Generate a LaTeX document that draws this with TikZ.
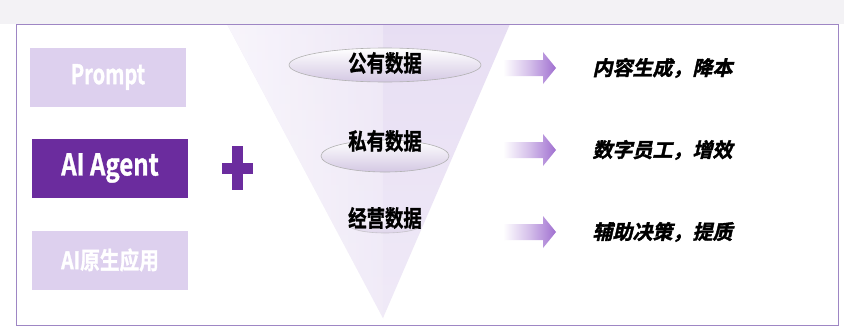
\documentclass[tikz,border=0pt]{standalone}
\usepackage{fontspec}
\usepackage{graphicx}
\newfontfamily\cjkb[FakeBold=1.2]{Noto Sans CJK SC Bold}
\newfontfamily\cjkbi[FakeSlant=0.22,FakeBold=1.8]{Noto Sans CJK SC Bold}
\definecolor{frame}{HTML}{9E86C4}
\definecolor{lav}{HTML}{DDD0EE}
\definecolor{deep}{HTML}{6B2C9E}
\definecolor{topband}{HTML}{F3F2F5}
\definecolor{arr}{HTML}{A070D0}
\newcommand{\narrow}[2]{\scalebox{#1}[1]{#2}}
\begin{document}
\begin{tikzpicture}[x=1pt,y=-1pt,
  leftbox/.style={minimum width=156pt,minimum height=59pt,inner sep=0pt,text=white},
  datalabel/.style={font=\cjkb\fontsize{23}{25}\selectfont,text=black},
  outlabel/.style={font=\cjkbi\fontsize{20}{22}\selectfont,text=black,anchor=west},
  disk/.style={draw=gray!60,line width=0.6pt,top color=white,bottom color=lav!90!gray}]
\useasboundingbox (0,0) rectangle (844,327);
\fill[topband] (0,0) rectangle (844,24);
\fill[white] (16,24) rectangle (838,325);
% funnel
\shade[top color=lav!70,bottom color=lav!45] (227,24) -- (510,24) -- (383,318) -- cycle;
\shade[left color=white,right color=lav!40,opacity=0.7] (227,24) -- (383,24) -- (383,318) -- cycle;
\draw[frame,line width=1pt] (16,24) rectangle (838,325);
% left boxes
\node[leftbox,fill=lav,font=\cjkb\fontsize{27}{29}\selectfont] (prompt) at (108,77) {\narrow{0.74}{Prompt}};
\node[leftbox,fill=deep,font=\cjkb\fontsize{30}{32}\selectfont] (agent) at (110,168) {\narrow{0.8}{AI Agent}};
\node[leftbox,fill=lav,font=\cjkb\fontsize{24}{26}\selectfont] (native) at (110,260) {\narrow{0.82}{AI原生应用}};
% plus
\fill[deep] (232,146) rectangle (243,190);
\fill[deep] (222,163) rectangle (253,174);
% ellipses
\path[disk] (385,65) ellipse [x radius=96,y radius=17];
\path[disk] (385,156) ellipse [x radius=64,y radius=16];
\path[disk,opacity=0.6] (385,225) ellipse [x radius=36,y radius=8];
\node[datalabel] (pub) at (385,63) {\narrow{0.8}{公有数据}};
\node[datalabel] (pri) at (385,141) {\narrow{0.8}{私有数据}};
\node[datalabel] (biz) at (385,218) {\narrow{0.8}{经营数据}};
% arrows
\foreach \y in {68,150,232}{
  \shade[left color=white,right color=arr,middle color=arr!45]
    (503,\y-8) -- (543,\y-8) -- (543,\y-16) -- (556,\y) -- (543,\y+16) -- (543,\y+8) -- (503,\y+8) -- cycle;
}
% outputs
\node[outlabel] (o1) at (589,68) {内容生成，降本};
\node[outlabel] (o2) at (589,150) {数字员工，增效};
\node[outlabel] (o3) at (589,232) {辅助决策，提质};
\end{tikzpicture}
\end{document}
